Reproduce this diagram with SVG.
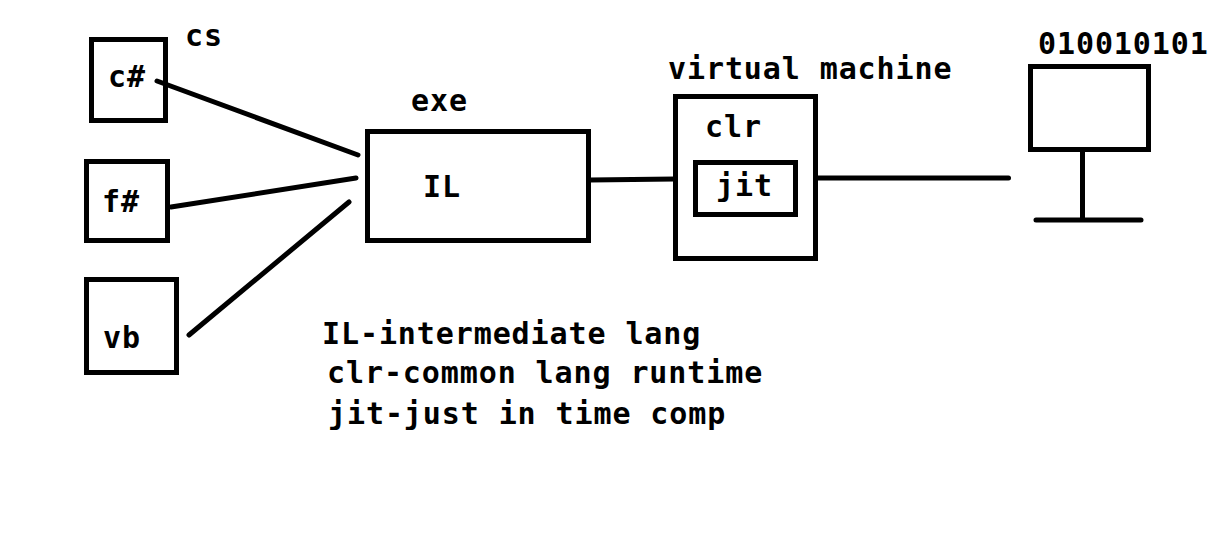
<svg xmlns="http://www.w3.org/2000/svg" width="1225" height="544" viewBox="0 0 1225 544">
<style>
.b{fill:none;stroke:#000;stroke-width:5}
.l{stroke:#000;stroke-width:5;fill:none;stroke-linecap:round}
text{font-family:"DejaVu Sans Mono","Liberation Mono",monospace;font-weight:bold;font-size:30px;letter-spacing:0.9px;fill:#000}
</style>
<rect width="1225" height="544" fill="#fff"/>
<g id="connectors">
<path class="l" d="M157 81L358 155"/>
<path class="l" d="M171 207L356 178"/>
<path class="l" d="M189 335L349 202"/>
<path class="l" d="M590 180L675 179"/>
<path class="l" d="M817 178L1008.500 178"/>
</g>
<g id="cs"><rect class="b" x="91.500" y="39.500" width="74" height="81"/><text x="108" y="87">c#</text><text x="185" y="46">cs</text></g>
<g id="fs"><rect class="b" x="86.500" y="161.500" width="81" height="79"/><text x="102" y="212">f#</text></g>
<g id="vb"><rect class="b" x="86.500" y="279.500" width="90" height="93"/><text x="103" y="348">vb</text></g>
<g id="il"><rect class="b" x="367.500" y="131.500" width="221" height="109"/><text x="423" y="197">IL</text><text x="411" y="111">exe</text></g>
<g id="clr"><rect class="b" x="675.500" y="96.500" width="140" height="162"/><text x="705" y="137">clr</text><text x="668" y="79">virtual machine</text></g>
<g id="jit"><rect class="b" x="695.500" y="162.500" width="100" height="52"/><text x="716" y="196">jit</text></g>
<g id="monitor"><rect class="b" x="1030.500" y="66.500" width="118" height="83"/><path class="l" d="M1082.500 150V220M1036 220H1141"/><text x="1038" y="54">010010101</text></g>
<g id="notes">
<text x="322" y="344">IL-intermediate lang</text>
<text x="327" y="383">clr-common lang runtime</text>
<text x="328" y="424">jit-just in time comp</text>
</g>
</svg>
